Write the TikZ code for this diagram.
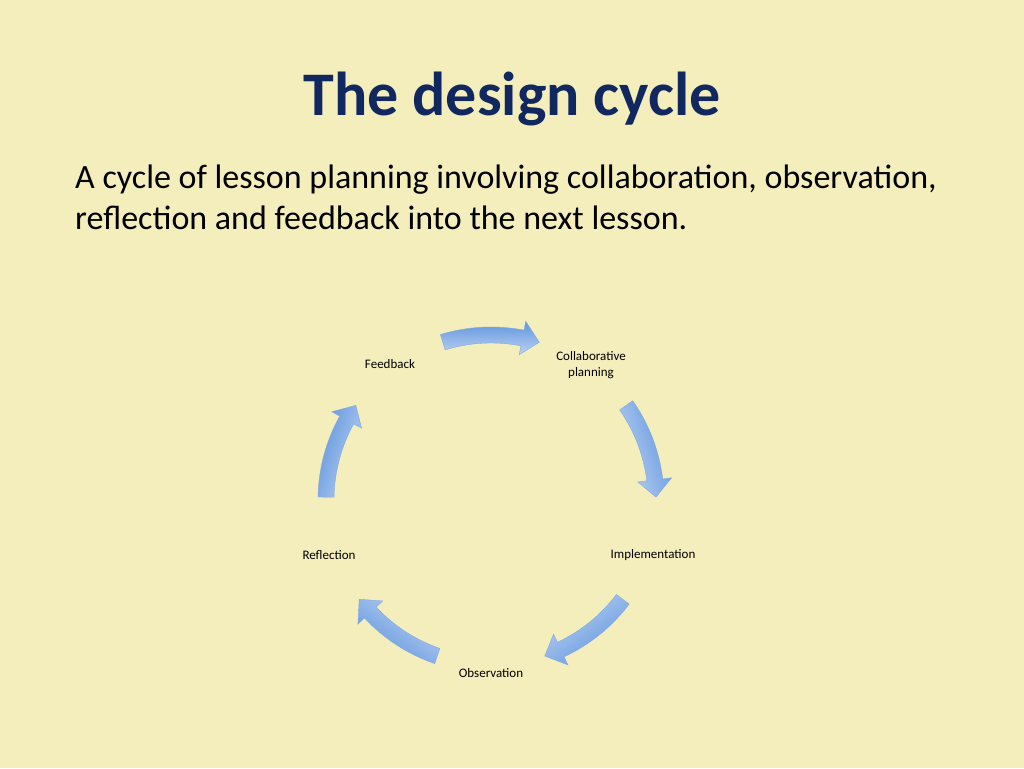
\documentclass[tikz,border=0pt]{standalone}
\usepackage{fontspec}
\setmainfont{Carlito}
\usetikzlibrary{calc}
\definecolor{bg}{HTML}{F4EDBC}
\definecolor{navy}{HTML}{10275F}
\definecolor{arL}{HTML}{BCD3F3}
\definecolor{arD}{HTML}{5F94DD}
\begin{document}
\begin{tikzpicture}[x=1pt,y=1pt,
  lbl/.style={font=\fontsize{13}{16}\selectfont,align=center,text=black}]
\fill[bg] (0,0) rectangle (1024,768);
\useasboundingbox (0,0) rectangle (1024,768);
\node[anchor=base,text=navy,font=\bfseries\fontsize{62}{70}\selectfont] (title) at (512,652) {The design cycle};
\node[anchor=base west,align=left,font=\fontsize{34}{41}\selectfont,text=black,inner sep=0pt] (body) at (75,538)
 {A cycle of lesson planning involving collaboration, observation,\\reflection and feedback into the next lesson.};
\coordinate (c) at (491,268);
\node[lbl] (collab) at (591,403) {Collaborative\\planning};
\node[lbl] (impl) at (653,213) {Implementation};
\node[lbl] (obs) at (491,95) {Observation};
\node[lbl] (refl) at (329,213) {Reflection};
\node[lbl] (feed) at (390,404) {Feedback};
\def\R{165}\def\w{8}\def\H{17}\def\s{17}\def\h{6}
\foreach \a in {90,18,-54,-126,-198}{
  \pgfmathsetmacro{\st}{\a+\s}
  \pgfmathsetmacro{\en}{\a-\s+\h}
  \pgfmathsetmacro{\tip}{\a-\s}
  \shade[top color=arL,bottom color=arD,shading angle=\a+90,draw=arD!80,line width=0.4pt]
   ($(c)+(\st:\R+\w)$) arc[start angle=\st,end angle=\en,radius=\R+\w]
   -- ($(c)+(\en:\R+\H)$) -- ($(c)+(\tip:\R)$) -- ($(c)+(\en:\R-\H)$)
   -- ($(c)+(\en:\R-\w)$) arc[start angle=\en,end angle=\st,radius=\R-\w] -- cycle;
}
\end{tikzpicture}
\end{document}
